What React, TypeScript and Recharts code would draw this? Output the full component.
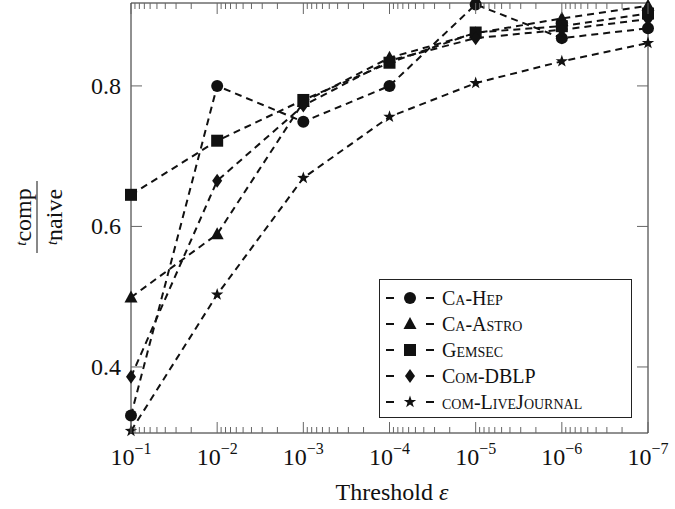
import React from "react";
import { LineChart, Line, XAxis, YAxis, ReferenceLine } from "recharts";

// epsilon = 10^-k
const exponents = [1, 2, 3, 4, 5, 6, 7];

const caHep = [0.331, 0.8, 0.749, 0.8, 0.916, 0.868, 0.882];
const caAstro = [0.499, 0.589, 0.777, 0.84, 0.875, 0.896, 0.914];
const gemsec = [0.645, 0.722, 0.78, 0.833, 0.876, 0.885, 0.903];
const comDblp = [0.386, 0.665, 0.772, 0.836, 0.868, 0.88, 0.895];
const liveJournal = [0.309, 0.503, 0.669, 0.756, 0.804, 0.835, 0.861];

const yTicks = [0.4, 0.6, 0.8];
const Y_DOMAIN = [0.306, 0.918];

const series = [
  { key: "caHep", name: "Ca-Hep", values: caHep, marker: "circle" },
  { key: "caAstro", name: "Ca-Astro", values: caAstro, marker: "triangle" },
  { key: "gemsec", name: "Gemsec", values: gemsec, marker: "square" },
  { key: "comDblp", name: "Com-DBLP", values: comDblp, marker: "diamond" },
  { key: "liveJournal", name: "com-LiveJournal", values: liveJournal, marker: "star" },
];

const data = exponents.map((k, i) => {
  const row: Record<string, number> = { k };
  series.forEach((s) => (row[s.key] = s.values[i]));
  return row;
});

// major decades plus log minor ticks (2..9 x 10^-(k+1))
const xTicks: number[] = [];
exponents.forEach((k) => {
  xTicks.push(k);
  if (k < 7) {
    for (let m = 9; m >= 2; m--) xTicks.push(k + 1 - Math.log10(m));
  }
});

const W = 675;
const H = 509;
const PLOT_LEFT = 131;
const PLOT_RIGHT = 648;
const PLOT_TOP = 3;
const PLOT_BOTTOM = 433;
const FONT =
  "'Liberation Serif', 'Times New Roman', Times, Tinos, 'Nimbus Roman', 'Nimbus Roman No9 L', 'Noto Serif', 'DejaVu Serif', FreeSerif, serif";
const INK = "#111";

const Marker = ({ kind, cx, cy }: { kind: string; cx: number; cy: number }) => {
  if (kind === "circle") return <circle cx={cx} cy={cy} r={6} fill={INK} />;
  if (kind === "square") return <rect x={cx - 6} y={cy - 6} width={12} height={12} fill={INK} />;
  if (kind === "triangle")
    return <path d={`M${cx},${cy - 7} L${cx + 6.5},${cy + 5} L${cx - 6.5},${cy + 5} Z`} fill={INK} />;
  if (kind === "diamond")
    return <path d={`M${cx},${cy - 7} L${cx + 5},${cy} L${cx},${cy + 7} L${cx - 5},${cy} Z`} fill={INK} />;
  // star
  const pts: string[] = [];
  for (let i = 0; i < 10; i++) {
    const r = i % 2 === 0 ? 6.5 : 2.6;
    const a = -Math.PI / 2 + (i * Math.PI) / 5;
    pts.push(`${cx + r * Math.cos(a)},${cy + r * Math.sin(a)}`);
  }
  return <polygon points={pts.join(" ")} fill={INK} />;
};

const textStyle = { fontFamily: FONT };

const XTick = (props: any) => {
  const { x, payload } = props;
  const v = payload.value;
  const major = Math.abs(v - Math.round(v)) < 1e-6;
  const len = major ? 11 : 6;
  return (
    <g>
      <line x1={x} x2={x} y1={PLOT_BOTTOM} y2={PLOT_BOTTOM - len} stroke="#666" />
      <line x1={x} x2={x} y1={PLOT_TOP} y2={PLOT_TOP + len} stroke="#666" />
      {major && (
        <text x={x} y={465} textAnchor="middle" style={textStyle} fontSize={24} fill={INK}>
          10
          <tspan fontSize={16} dy={-11}>
            {`\u2212${Math.round(v)}`}
          </tspan>
        </text>
      )}
    </g>
  );
};

const YTick = (props: any) => {
  const { y, payload } = props;
  return (
    <g>
      <line x1={PLOT_LEFT} x2={PLOT_LEFT + 11} y1={y} y2={y} stroke="#666" />
      <line x1={PLOT_RIGHT} x2={PLOT_RIGHT - 11} y1={y} y2={y} stroke="#666" />
      <text x={121} y={y + 8} textAnchor="end" style={textStyle} fontSize={24} fill={INK}>
        {payload.value.toFixed(1)}
      </text>
    </g>
  );
};

const YLabel = () => (
  <g transform="translate(37,217) rotate(-90)" style={textStyle} fill={INK}>
    <text x={0} y={-6} textAnchor="middle" fontSize={24} style={textStyle}>
      <tspan fontSize={15} fontStyle="italic" dy={-5}>t</tspan>
      <tspan dy={5}>comp</tspan>
    </text>
    <line x1={-36} x2={36} y1={0} y2={0} stroke={INK} strokeWidth={1} />
    <text x={0} y={25} textAnchor="middle" fontSize={24} style={textStyle}>
      <tspan fontSize={15} fontStyle="italic" dy={-5}>t</tspan>
      <tspan dy={5}>naive</tspan>
    </text>
  </g>
);

const XLabel = () => (
  <text x={392} y={500} textAnchor="middle" style={textStyle} fontSize={24} fill={INK}>
    Threshold <tspan fontStyle="italic">{"\u03b5"}</tspan>
  </text>
);

const LegendBox = () => (
  <div
    style={{
      position: "absolute",
      left: 379,
      top: 279,
      width: 253,
      height: 139,
      border: "1px solid #222",
      background: "#fff",
      fontFamily: FONT,
      fontSize: 20,
      fontVariant: "small-caps",
      color: INK,
      paddingTop: 5,
      boxSizing: "border-box",
    }}
  >
    {series.map((s) => (
      <div key={s.key} style={{ display: "flex", alignItems: "center", height: 26 }}>
        <svg width={56} height={20} style={{ marginLeft: 4 }}>
          <line x1={2} x2={10} y1={10} y2={10} stroke={INK} strokeWidth={2} />
          <line x1={42} x2={50} y1={10} y2={10} stroke={INK} strokeWidth={2} />
          <Marker kind={s.marker} cx={26} cy={10} />
        </svg>
        <span style={{ marginLeft: 2 }}>{s.name}</span>
      </div>
    ))}
  </div>
);

const App = () => (
  <div style={{ position: "absolute", left: 0, top: 0, width: W, height: H, background: "#fff", fontFamily: FONT }}>
    <LineChart width={W} height={H} data={data} margin={{ top: PLOT_TOP, right: W - PLOT_RIGHT, bottom: 0, left: 0 }}>
      <XAxis
        dataKey="k"
        type="number"
        domain={[1, 7]}
        ticks={xTicks}
        interval={0}
        height={H - PLOT_BOTTOM}
        tickLine={false}
        axisLine={{ stroke: "#222" }}
        tick={<XTick />}
        label={<XLabel />}
      />
      <YAxis
        type="number"
        domain={Y_DOMAIN}
        ticks={yTicks}
        interval={0}
        width={PLOT_LEFT}
        tickLine={false}
        axisLine={{ stroke: "#222" }}
        tick={<YTick />}
        label={<YLabel />}
      />
      <ReferenceLine y={Y_DOMAIN[1]} stroke="#222" />
      <ReferenceLine x={7} stroke="#222" />
      {series.map((s) => (
        <Line
          key={s.key}
          dataKey={s.key}
          name={s.name}
          type="linear"
          stroke={INK}
          strokeWidth={2}
          strokeDasharray="7 5"
          isAnimationActive={false}
          dot={(p: any) => <Marker key={`${s.key}-${p.index}`} kind={s.marker} cx={p.cx} cy={p.cy} />}
          activeDot={false}
        />
      ))}
    </LineChart>
    <LegendBox />
  </div>
);

export default App;
